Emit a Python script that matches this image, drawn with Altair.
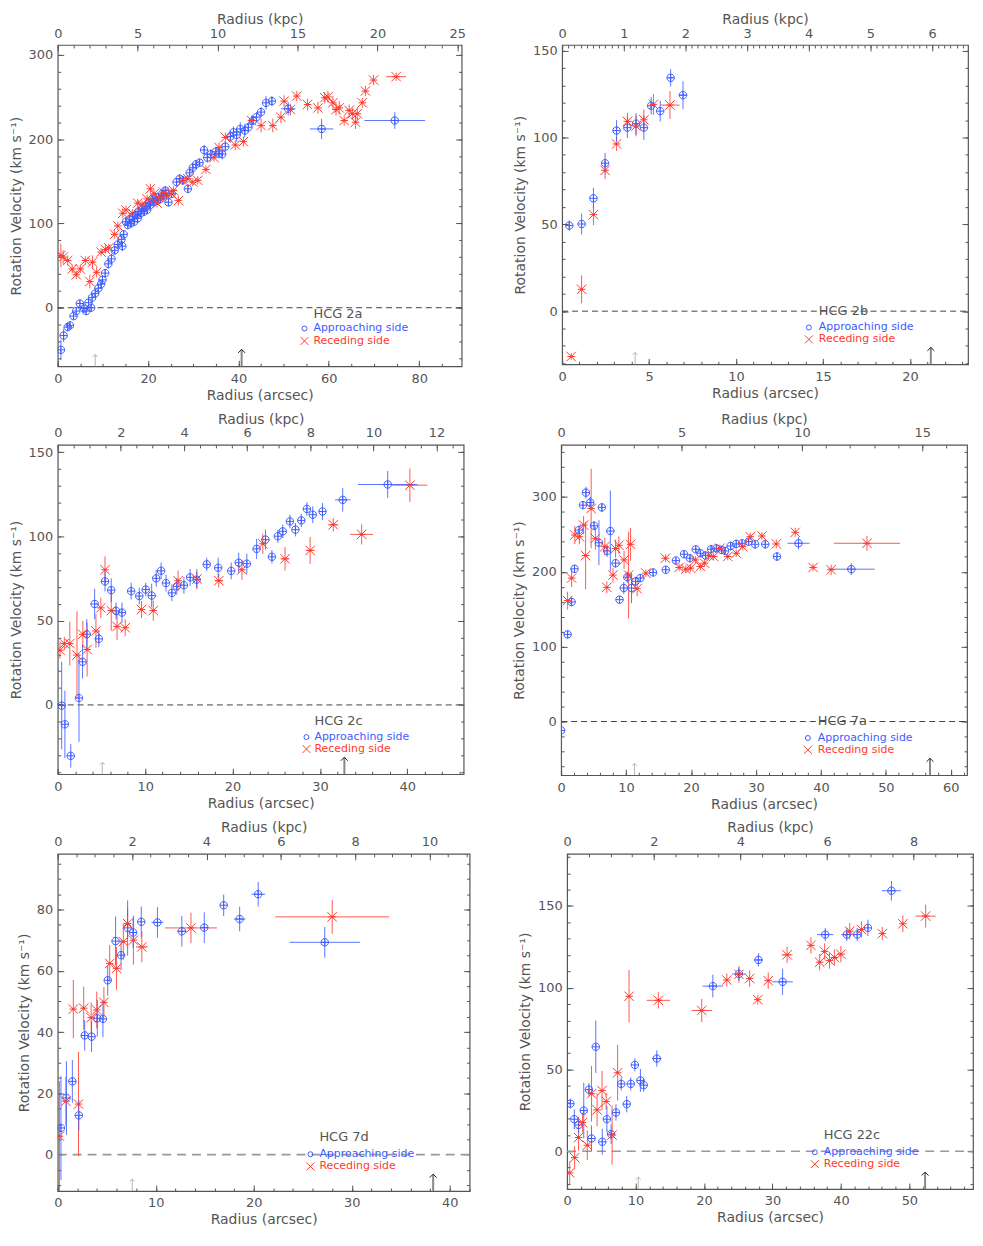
import altair as alt
import pandas as pd
import numpy as np

FONT = "DejaVu Sans"
GRAY = "#555555"
BLUE = "#3d5cff"
RED = "#ff3a2e"

# ---------------- data: (radius arcsec, velocity km/s, velocity error, radius error) ----------------
hcg2a_app = [
    (0.7, -50, 12, 0), (1.3, -33, 8, 0), (2.2, -23, 5, 0), (2.7, -21, 4, 0), (3.5, -10, 4, 0),
    (4.1, -4, 4, 0), (4.9, 5, 4, 0), (5.8, -1, 4, 0), (6.3, -4, 4, 0), (6.8, 6, 4, 0),
    (7.4, 0, 4, 0), (7.6, 12, 4, 0), (8.3, 17, 4, 0), (9.0, 23, 4, 0), (9.6, 28, 4, 0),
    (9.9, 33, 5, 0), (10.5, 41, 5, 0), (11.2, 52, 6, 0), (11.9, 58, 6, 0), (12.6, 68, 5, 0),
    (13.3, 75, 5, 0), (14.1, 81, 5, 0), (14.3, 73, 6, 0), (14.6, 87, 5, 0), (15.1, 102, 5, 0),
    (15.5, 98, 5, 0), (15.9, 105, 5, 0), (16.2, 100, 5, 0), (16.6, 108, 5, 0), (16.9, 102, 5, 0),
    (17.3, 110, 5, 0), (17.7, 106, 5, 0), (17.8, 114, 5, 0), (18.4, 112, 5, 0), (18.7, 118, 5, 0),
    (19.1, 114, 5, 0), (19.5, 120, 5, 0), (19.8, 116, 5, 0), (20.2, 124, 5, 0), (20.5, 122, 5, 0),
    (20.9, 129, 5, 0), (21.3, 125, 5, 0), (21.8, 131, 5, 0), (22.0, 127, 5, 0), (22.7, 129, 5, 0),
    (23.1, 135, 5, 0), (23.4, 133, 5, 0), (23.8, 139, 5, 0), (24.5, 125, 5, 0), (25.2, 135, 5, 0),
    (26.3, 149, 5, 0), (27.0, 153, 5, 0), (27.7, 151, 5, 0), (28.8, 141, 5, 0), (29.2, 160, 5, 0),
    (29.9, 166, 5, 0), (30.6, 170, 5, 0), (31.4, 172, 5, 0), (32.4, 187, 6, 0), (33.1, 178, 6, 0),
    (33.9, 182, 6, 0), (35.0, 185, 6, 0), (35.7, 183, 6, 0), (36.4, 182, 6, 0), (37.1, 191, 6, 0),
    (38.2, 203, 7, 0), (38.9, 208, 7, 0), (39.6, 205, 8, 0), (40.4, 212, 8, 0), (41.4, 210, 8, 0),
    (42.2, 214, 6, 0), (43.2, 222, 6, 0), (44.0, 226, 6, 0), (45.0, 232, 6, 0), (46.1, 243, 8, 0),
    (47.4, 245, 6, 0), (51.0, 236, 8, 1.6), (58.4, 212, 12, 2.6), (74.6, 222, 10, 6.7),
]
hcg2a_rec = [
    (0.7, 62, 14, 0), (1.2, 60, 8, 0), (2.2, 56, 6, 0), (3.2, 46, 5, 0), (4.1, 39, 5, 0),
    (5.0, 46, 5, 0), (6.1, 56, 5, 0), (7.1, 31, 8, 0), (7.7, 54, 8, 0), (8.6, 42, 6, 0),
    (9.6, 66, 5, 0), (10.6, 69, 5, 0), (11.3, 71, 5, 0), (12.6, 87, 5, 0), (13.3, 97, 5, 0),
    (14.4, 112, 6, 0), (15.1, 116, 5, 0), (16.5, 112, 5, 0), (17.7, 124, 5, 0), (18.7, 122, 5, 0),
    (19.8, 129, 5, 0), (20.5, 141, 6, 0), (21.3, 135, 5, 0), (22.0, 124, 5, 0), (22.3, 131, 5, 0),
    (23.1, 131, 5, 0), (23.4, 137, 5, 0), (24.1, 133, 5, 0), (25.2, 135, 5, 0), (25.6, 139, 5, 0),
    (26.7, 127, 6, 0), (27.7, 151, 5, 0), (28.8, 153, 5, 0), (29.9, 149, 5, 0), (31.0, 151, 5, 0),
    (32.8, 164, 5, 0), (34.6, 178, 5, 0), (35.7, 190, 6, 0), (37.1, 202, 6, 0), (39.3, 193, 6, 0),
    (41.1, 197, 6, 0), (42.9, 222, 6, 0), (45.0, 216, 8, 0), (47.6, 216, 8, 0), (49.4, 226, 7, 0),
    (50.1, 245, 7, 0), (51.5, 235, 7, 0), (52.9, 251, 6, 0), (55.3, 241, 7, 0), (57.6, 237, 7, 0),
    (59.1, 249, 7, 0), (59.8, 250, 7, 0), (60.9, 243, 8, 0), (61.6, 235, 7, 0), (62.3, 237, 8, 0),
    (63.4, 222, 6, 0), (64.5, 234, 7, 0), (65.2, 230, 7, 0), (65.9, 220, 8, 0), (66.3, 230, 8, 0),
    (67.4, 243, 6, 0), (68.1, 257, 6, 0), (69.9, 270, 6, 0), (74.9, 274, 5, 2.2),
]
hcg2b_app = [
    (0.41, 49.3, 3, 0), (1.12, 50.2, 6, 0), (1.80, 65.0, 6, 0), (2.47, 85.2, 6, 0),
    (3.13, 104.0, 6, 0), (3.75, 105.7, 6, 0), (4.25, 108.0, 6, 0), (4.70, 105.7, 7, 0),
    (5.12, 118.3, 5, 0), (5.64, 115.2, 6, 0), (6.24, 134.4, 5, 0.15), (6.95, 124.4, 8, 0.25),
]
hcg2b_rec = [
    (0.52, -26.1, 2, 0), (1.12, 12.6, 8, 0), (1.80, 55.6, 6, 0), (2.47, 81.1, 5, 0),
    (3.13, 96.3, 4, 0), (3.75, 109.3, 5, 0), (4.25, 106.7, 6, 0), (4.70, 110.2, 6, 0),
    (5.25, 119.1, 6, 0), (6.20, 118.7, 8, 0.55),
]
hcg2c_app = [
    (0.45, -0.4, 26, 0), (0.82, -11.5, 20, 0), (1.49, -30.2, 7, 0), (2.43, 4.1, 26, 0),
    (2.84, 25.6, 10, 0), (3.32, 41.9, 9, 0), (4.22, 59.9, 9, 0), (4.70, 39.2, 5, 0),
    (5.41, 73.3, 6, 0), (6.12, 68.1, 7, 0), (6.68, 55.8, 5, 0), (7.35, 54.8, 6, 0),
    (8.40, 67.5, 5, 0), (9.33, 64.6, 5, 0), (10.07, 68.5, 4, 0), (10.75, 64.9, 7, 0),
    (11.27, 75.1, 5, 0), (11.83, 79.6, 5, 0), (12.39, 72.3, 5, 0), (13.06, 66.5, 5, 0),
    (13.62, 70.4, 5, 0), (14.44, 71.0, 5, 0), (15.15, 75.7, 5, 0), (15.90, 74.3, 5, 0),
    (17.05, 83.4, 4, 0), (18.36, 81.4, 6, 0), (19.85, 79.5, 5, 0), (20.71, 84.4, 6, 0),
    (21.64, 83.8, 6, 0), (22.76, 92.6, 6, 0), (23.77, 98.1, 6, 0), (24.51, 87.9, 4, 0),
    (25.19, 100.1, 4, 0), (25.75, 103.0, 4, 0), (26.57, 108.9, 4, 0), (27.20, 104.0, 4, 0),
    (27.87, 109.5, 4, 0), (28.51, 116.3, 4, 0), (29.18, 112.9, 5, 0), (30.30, 114.8, 5, 0),
    (32.61, 121.7, 7, 0.9), (37.76, 130.8, 8, 3.4),
]
hcg2c_rec = [
    (0.26, 32.5, 5, 0), (0.75, 36.4, 4, 0), (1.38, 36.4, 13, 0), (2.20, 29.6, 26, 0),
    (2.87, 41.9, 8, 0), (3.36, 32.9, 16, 0), (4.37, 43.9, 10, 0), (4.93, 57.6, 6, 0),
    (5.41, 80.2, 8, 0), (6.12, 56.0, 12, 0), (6.79, 46.6, 8, 0), (7.72, 45.8, 5, 0),
    (9.59, 56.6, 5, 0), (10.93, 56.0, 6, 0), (13.77, 73.7, 6, 0), (15.93, 74.7, 6, 0),
    (18.43, 73.7, 4, 0.5), (21.08, 80.2, 6, 0), (23.47, 95.6, 6, 0), (26.01, 86.7, 7, 0.5),
    (28.88, 91.7, 8, 0.5), (31.53, 106.9, 4, 0.6), (34.78, 101.2, 6, 1.3), (40.30, 130.4, 10, 2.0),
]
hcg7a_app = [
    (0.0, -12.0, 53, 0), (1.0, 116.4, 5, 0), (1.61, 159.7, 6, 0), (2.06, 204.0, 5, 0),
    (2.76, 255.8, 6, 0), (3.36, 289.0, 4, 0), (3.82, 305.8, 8, 0), (4.47, 292.5, 8, 0),
    (5.07, 261.5, 6, 0), (5.82, 238.9, 30, 0), (6.27, 286.0, 6, 0), (7.08, 227.9, 8, 0),
    (7.58, 254.4, 54, 0), (8.38, 211.5, 6, 0), (8.99, 162.8, 4, 0), (9.64, 178.3, 8, 0),
    (10.19, 192.9, 8, 0), (10.84, 178.3, 20, 0), (11.45, 187.2, 6, 0), (12.20, 191.6, 5, 0),
    (14.16, 199.1, 5, 0), (16.11, 202.7, 4, 0), (17.67, 215.0, 4, 0), (18.93, 223.5, 5, 0),
    (19.83, 218.1, 5, 0), (20.73, 230.1, 4, 0), (21.44, 224.8, 4, 0), (22.24, 221.7, 4, 0),
    (23.09, 230.1, 5, 0), (23.90, 231.4, 5, 0), (24.70, 229.2, 5, 0), (25.25, 227.9, 5, 0),
    (26.10, 234.5, 6, 0), (26.96, 237.2, 6, 0), (27.86, 238.1, 5, 0), (28.87, 240.3, 5, 0),
    (29.87, 236.7, 6, 0), (31.43, 236.7, 6, 0), (33.23, 220.4, 6, 0), (36.55, 238.1, 8, 1.7),
    (44.68, 203.5, 8, 3.6),
]
hcg7a_rec = [
    (1.0, 161.5, 12, 0), (1.61, 191.6, 12, 0), (2.11, 249.1, 12, 0), (2.81, 246.9, 10, 0),
    (3.46, 262.4, 12, 0), (3.77, 221.7, 45, 0), (4.62, 284.5, 53, 0), (5.27, 244.7, 15, 0),
    (6.73, 233.6, 12, 0), (7.03, 179.2, 8, 0), (7.98, 195.6, 10, 0), (8.38, 231.0, 12, 0),
    (8.89, 235.4, 12, 0), (9.69, 215.9, 12, 0), (10.39, 195.6, 58, 0), (10.69, 236.7, 22, 0),
    (11.70, 177.4, 10, 0), (13.05, 198.2, 5, 0), (16.06, 218.1, 5, 0), (18.17, 205.8, 5, 0),
    (19.18, 203.5, 5, 0), (19.93, 204.9, 5, 0), (20.68, 215.9, 5, 0), (21.44, 207.1, 5, 0),
    (22.09, 211.5, 5, 0), (22.74, 221.7, 5, 0), (23.49, 220.4, 5, 0), (24.45, 231.4, 5, 0),
    (25.65, 220.4, 5, 0), (26.96, 224.8, 5, 0), (27.96, 233.6, 5, 0), (29.12, 246.9, 5, 0),
    (30.92, 247.8, 5, 0), (33.13, 237.2, 6, 0), (36.04, 252.7, 6, 0), (38.80, 205.8, 5, 0),
    (41.57, 202.7, 7, 0), (47.09, 238.1, 10, 5.1),
]
hcg7d_app = [
    (0.33, 8.7, 17, 0), (0.89, 18.5, 12, 0), (1.49, 23.9, 7, 0), (2.15, 12.8, 5, 0),
    (2.75, 38.9, 5, 0), (3.45, 38.5, 5, 0), (4.04, 44.5, 6, 0), (4.61, 44.3, 6, 0),
    (5.10, 56.9, 5, 0), (5.90, 69.7, 8, 0), (6.46, 65.1, 5, 0), (7.13, 74.0, 9, 0),
    (7.69, 72.5, 5, 0), (8.52, 76.0, 5, 0), (10.17, 75.8, 5, 0.6), (12.66, 72.9, 5, 0.5),
    (14.95, 74.1, 5, 0), (16.93, 81.4, 3.5, 0), (18.56, 76.9, 4, 0.6), (20.45, 85.0, 4, 0.7),
    (27.24, 69.3, 5, 3.6),
]
hcg7d_rec = [
    (0.17, 6.0, 18, 0), (0.83, 17.4, 8, 0), (1.59, 47.5, 9.5, 0), (2.12, 16.5, 17, 0),
    (2.65, 47.8, 7, 0), (3.41, 44.7, 5, 0), (3.98, 47.2, 6, 0), (4.71, 49.7, 5, 0),
    (5.30, 62.4, 6, 0), (6.00, 60.8, 7, 0), (6.69, 69.5, 6, 0), (7.13, 75.4, 5, 0),
    (7.72, 70.0, 8, 0), (8.58, 67.8, 5, 0.6), (13.59, 74.0, 5, 2.65), (28.0, 77.6, 5.5, 5.8),
]
hcg22c_app = [
    (0.48, 29.1, 3, 0), (1.05, 19.6, 6, 0), (1.67, 16.1, 5, 0), (2.43, 24.9, 17, 0),
    (3.19, 37.7, 4, 0), (3.57, 7.8, 8, 0), (4.19, 63.9, 16, 0), (5.14, 5.8, 8, 0),
    (5.81, 19.6, 8, 0), (6.43, 10.5, 6, 0), (7.14, 23.7, 5, 0), (7.90, 41.2, 4, 0),
    (8.71, 28.8, 5, 0), (9.29, 41.2, 4, 0), (9.90, 52.8, 4, 0), (10.71, 43.3, 7, 0),
    (11.19, 40.4, 4, 0), (13.10, 56.7, 5, 0.7), (21.29, 101.0, 7, 1.5), (25.10, 108.4, 4, 1.0),
    (27.95, 117.0, 4, 0.6), (31.48, 103.6, 8, 1.5), (37.71, 132.5, 4, 1.2), (40.86, 132.5, 4, 0.8),
    (42.38, 132.5, 4, 0), (43.95, 136.6, 5, 0), (47.38, 159.3, 6, 1.4),
]
hcg22c_rec = [
    (0.38, -13.2, 7, 0), (1.10, -3.9, 7, 0), (1.67, 8.4, 8, 0), (2.24, 17.5, 6, 0),
    (2.95, 3.7, 9, 0), (3.57, 35.2, 17, 0), (4.38, 25.3, 10, 0), (5.10, 37.1, 12, 0),
    (5.71, 30.5, 5, 0), (6.57, 9.9, 18, 0), (7.38, 48.0, 17, 0), (9.05, 94.8, 16, 0),
    (13.33, 92.3, 5, 1.7), (19.67, 86.1, 7, 1.5), (23.33, 104.7, 4, 0), (25.10, 108.2, 5, 0),
    (26.67, 105.6, 5, 0), (27.86, 92.7, 3, 0), (29.38, 104.3, 5, 0), (32.14, 120.1, 5, 0.8),
    (35.62, 125.9, 5, 0), (36.90, 115.6, 5, 0), (37.62, 122.2, 5, 0), (38.33, 116.6, 5, 0),
    (39.05, 118.5, 5, 0), (40.00, 120.5, 5, 0), (41.29, 134.6, 5, 0), (43.00, 135.6, 5, 0),
    (46.05, 133.1, 4, 0), (49.05, 139.1, 5, 0), (52.38, 143.8, 7, 1.5),
]

NAMES = ["HCG 2a", "HCG 2b", "HCG 2c", "HCG 7a", "HCG 7d", "HCG 22c"]
APP = [hcg2a_app, hcg2b_app, hcg2c_app, hcg7a_app, hcg7d_app, hcg22c_app]
REC = [hcg2a_rec, hcg2b_rec, hcg2c_rec, hcg7a_rec, hcg7d_rec, hcg22c_rec]
ARROW_SMALL = [8.3, 4.2, 5.1, 11.3, 7.6, 10.4]
ARROW_BIG = [40.7, 21.2, 32.8, 56.8, 38.3, 52.3]
KPC_PER_ARCSEC = [0.2827, 0.2821, 0.2768, 0.2697, 0.2636, 0.158]
X_MAX = [89.4, 23.34, 46.45, 62.5, 42.02, 59.3]
Y_RANGE = [(-69.5, 311.6), (-30.6, 153.3), (-41.1, 154.3), (-71.7, 369.5), (-11.9, 98.2), (-23.1, 181.9)]
X_STEPS = [(20, 5), (5, 1), (10, 2), (10, 2), (10, 2), (10, 2)]
KPC_STEPS = [(5, 1), (1, 0.1), (2, 0.5), (5, 1), (2, 0.5), (2, 0.5)]
Y_STEPS = [(100, 20), (50, 10), (50, 10), (100, 20), (20, 5), (50, 10)]

# ---------------- layout (pixels) ----------------
SIZES = [(406, 323), (408, 321), (408, 331), (408, 332), (414, 339), (408, 337)]
# symbol x, text x, then offsets above the plot bottom for HCG / approaching / receding rows
LEGEND_POS = [
    (248, 257, 53, 38, 25.5), (248, 258, 54, 37, 25), (250, 258, 53, 37.3, 25.3),
    (248, 258, 54, 37.4, 25.4), (254, 263, 54, 37, 24.7), (249, 258, 54, 37, 25),
]
ZERO_STYLE = [("#444444", 1, [6, 4])] * 4 + [("#999999", 1.6, [9, 6])] * 2

CIRCLE_PATH = "M-1,0A1,1 0 1,1 1,0A1,1 0 1,1 -1,0M-1,0L1,0M0,-1L0,1"
X_PATH = "M-1,-1L1,1M-1,1L1,-1M-0.8,0L0.8,0"
HEAD_PATH = "M-1,1L0,0L1,1"

DUMMY = pd.DataFrame({"x": [0.0], "v": [0.0]})


def tick_values(step, lo, hi):
    k0 = int(np.ceil(lo / step - 1e-6))
    k1 = int(np.floor(hi / step + 1e-6))
    return [round(k * step, 6) for k in range(k0, k1 + 1)]


def frame(rows):
    df = pd.DataFrame(rows, columns=["x", "v", "ev", "ex"])
    df["lo"] = df.v - df.ev
    df["hi"] = df.v + df.ev
    df["xl"] = df.x - df.ex
    df["xh"] = df.x + df.ex
    return df


def axis_layer(channel, scale, orient, values, size, title=None, labels=False,
               label_expr=None, label_pad=5, title_pad=4):
    kw = dict(orient=orient, values=values, tickSize=size, offset=-size, domain=False,
              grid=False, labels=labels, title=title, labelFlush=False, labelOverlap=False,
              labelPadding=label_pad, titlePadding=title_pad)
    if label_expr:
        kw["labelExpr"] = label_expr
    ax = alt.Axis(**kw)
    base = alt.Chart(DUMMY).mark_point(opacity=0, size=1)
    if channel == "x":
        return base.encode(x=alt.X("x:Q", scale=scale, axis=ax), y=alt.Y("v:Q", axis=None))
    return base.encode(y=alt.Y("v:Q", scale=scale, axis=ax), x=alt.X("x:Q", axis=None))


def build_panel(i):
    W, H = SIZES[i]
    ratio = KPC_PER_ARCSEC[i]
    xmax = X_MAX[i]
    ylo, yhi = Y_RANGE[i]
    xs = alt.Scale(domain=[0, xmax], nice=False, zero=False)
    ys = alt.Scale(domain=[ylo, yhi], nice=False, zero=False)
    xM, xm = X_STEPS[i]
    kM, km = KPC_STEPS[i]
    yM, ym = Y_STEPS[i]
    kmax = xmax * ratio

    layers = [
        axis_layer("x", xs, "bottom", tick_values(xM, 0, xmax), 6, title="Radius (arcsec)",
                   labels=True, label_pad=6, title_pad=3),
        axis_layer("x", xs, "bottom", tick_values(xm, 0, xmax), 3),
        axis_layer("x", xs, "top", [t / ratio for t in tick_values(kM, 0, kmax)], 6,
                   title="Radius (kpc)", labels=True,
                   label_expr=f"format(datum.value * {ratio}, '.0f')", label_pad=5, title_pad=1),
        axis_layer("x", xs, "top", [t / ratio for t in tick_values(km, 0, kmax)], 3),
        axis_layer("y", ys, "left", tick_values(yM, ylo, yhi), 6,
                   title="Rotation Velocity (km s\u207b\u00b9)", labels=True, label_pad=5, title_pad=5),
        axis_layer("y", ys, "left", tick_values(ym, ylo, yhi), 3),
        axis_layer("y", ys, "right", tick_values(yM, ylo, yhi), 6),
        axis_layer("y", ys, "right", tick_values(ym, ylo, yhi), 3),
    ]

    zc, zw, zd = ZERO_STYLE[i]
    zero_df = pd.DataFrame({"x": [0.0], "x2": [xmax], "v": [0.0]})
    layers.append(
        alt.Chart(zero_df).mark_rule(color=zc, strokeWidth=zw, strokeDash=zd)
        .encode(x=alt.X("x:Q", axis=None), x2="x2:Q", y=alt.Y("v:Q", axis=None))
    )

    app = frame(APP[i])
    rec = frame(REC[i])

    def ybars(df, color):
        return alt.Chart(df).mark_rule(color=color, strokeWidth=1, opacity=0.85, clip=True).encode(
            x=alt.X("x:Q", axis=None),
            y=alt.Y("lo:Q", axis=None), y2="hi:Q")

    def xbars(df, color):
        d = df[df.ex > 0]
        return alt.Chart(d).mark_rule(color=color, strokeWidth=1, opacity=0.85, clip=True).encode(
            x=alt.X("xl:Q", axis=None), x2="xh:Q",
            y=alt.Y("v:Q", axis=None))

    layers += [ybars(rec, RED), xbars(rec, RED), ybars(app, BLUE), xbars(app, BLUE)]
    layers.append(
        alt.Chart(app).mark_point(shape=CIRCLE_PATH, filled=False, size=56, strokeWidth=1,
                                  color=BLUE, opacity=1, clip=True)
        .encode(x=alt.X("x:Q", axis=None), y=alt.Y("v:Q", axis=None))
    )
    layers.append(
        alt.Chart(rec).mark_point(shape=X_PATH, filled=False, size=90, strokeWidth=1,
                                  color=RED, opacity=1, clip=True)
        .encode(x=alt.X("x:Q", axis=None), y=alt.Y("v:Q", axis=None))
    )
    layers.append(
        alt.Chart(rec).mark_point(shape="circle", filled=True, size=6, color=RED, opacity=1, clip=True)
        .encode(x=alt.X("x:Q", axis=None), y=alt.Y("v:Q", axis=None))
    )

    # arrows standing on the bottom of the plot
    arr = pd.DataFrame({"x": [ARROW_SMALL[i], ARROW_BIG[i]], "v": [ylo, ylo],
                        "kind": ["small", "big"]})
    small = arr[arr.kind == "small"]
    big = arr[arr.kind == "big"]
    layers += [
        alt.Chart(small).mark_rule(color="#b5b5b5", strokeWidth=1).encode(
            x=alt.X("x:Q", axis=None), y=alt.Y("v:Q", axis=None), y2=alt.value(H - 12)),
        alt.Chart(small).mark_point(shape=HEAD_PATH, filled=False, color="#b5b5b5", size=25,
                                    strokeWidth=1, opacity=1).encode(
            x=alt.X("x:Q", axis=None), y=alt.value(H - 12)),
        alt.Chart(big).mark_rule(color="#888888", strokeWidth=2).encode(
            x=alt.X("x:Q", axis=None), y=alt.Y("v:Q", axis=None), y2=alt.value(H - 17)),
        alt.Chart(big).mark_point(shape=HEAD_PATH, filled=False, color="#222222", size=49,
                                  strokeWidth=1, opacity=1).encode(
            x=alt.X("x:Q", axis=None), y=alt.value(H - 17)),
    ]

    # legend
    sx, tx, dh, da, dr = LEGEND_POS[i]

    def txt(s, x, y, c, fs):
        return alt.Chart(DUMMY).mark_text(text=s, align="left", baseline="middle", font=FONT,
                                          fontSize=fs, color=c).encode(x=alt.value(x), y=alt.value(y))

    layers += [
        txt(NAMES[i], tx, H - dh, GRAY, 13),
        txt("Approaching side", tx, H - da, BLUE, 11),
        txt("Receding side", tx, H - dr, RED, 11),
        alt.Chart(DUMMY).mark_point(shape="circle", filled=False, size=25, color=BLUE, opacity=1,
                                    strokeWidth=1).encode(x=alt.value(sx), y=alt.value(H - da)),
        alt.Chart(DUMMY).mark_point(shape="M-1,-1L1,1M-1,1L1,-1", filled=False, size=64, color=RED,
                                    opacity=1, strokeWidth=1).encode(x=alt.value(sx), y=alt.value(H - dr)),
    ]

    return (alt.layer(*layers)
            .encode(x=alt.X(scale=xs), y=alt.Y(scale=ys))
            .resolve_axis(x="independent", y="independent")
            .properties(width=W, height=H))


panels = [build_panel(i) for i in range(6)]
rows = [alt.hconcat(panels[0], panels[1], spacing=46),
        alt.hconcat(panels[2], panels[3], spacing=46),
        alt.hconcat(panels[4], panels[5], spacing=46)]

chart = (
    alt.vconcat(*rows, spacing=8)
    .properties(padding={"left": 0, "top": 0, "right": 0, "bottom": 0}, background="white")
    .configure_axis(labelFont=FONT, titleFont=FONT, labelFontSize=13, titleFontSize=14,
                    labelColor=GRAY, titleColor=GRAY, tickColor=GRAY, titleFontWeight="normal",
                    tickWidth=1)
    .configure_view(stroke="#555555", strokeWidth=1.2)
)

chart.save("out.html", embed_options={"renderer": "svg", "actions": False})
